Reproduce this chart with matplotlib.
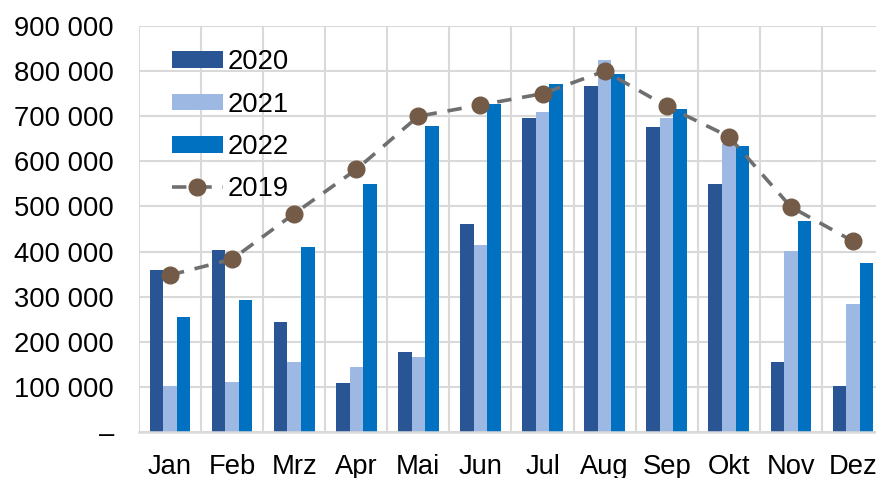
import matplotlib
matplotlib.use("Agg")
import matplotlib.pyplot as plt
import numpy as np

plt.rcParams['font.family'] = ['Liberation Sans', 'DejaVu Sans']

months = ["Jan", "Feb", "Mrz", "Apr", "Mai", "Jun", "Jul", "Aug", "Sep", "Okt", "Nov", "Dez"]
v2020 = [360000, 403000, 243000, 109000, 177000, 460000, 696000, 768000, 677000, 549000, 155000, 102000]
v2021 = [102000, 110000, 155000, 145000, 166000, 415000, 709000, 825000, 697000, 638000, 401000, 283000]
v2022 = [256000, 292000, 409000, 549000, 679000, 727000, 771000, 793000, 715000, 634000, 467000, 375000]
v2019 = [348000, 383000, 484000, 582000, 700000, 725000, 750000, 800000, 722000, 655000, 499000, 423000]
yticks = [0, 100000, 200000, 300000, 400000, 500000, 600000, 700000, 800000, 900000]

c2020 = "#2A5595"
c2021 = "#9DB9E3"
c2022 = "#0070C0"
cline = "#6F6F6F"
cmark = "#735B47"
grid = "#D9D9D9"

fig = plt.figure(figsize=(8.76, 4.78), dpi=100)
ax = fig.add_axes([139 / 876, 46 / 478, 745 / 876, 406 / 478])

x = np.arange(len(months))
w = 0.218
b20 = ax.bar(x - w, v2020, w, color=c2020, label="2020", zorder=2)
b21 = ax.bar(x, v2021, w, color=c2021, label="2021", zorder=2)
b22 = ax.bar(x + w, v2022, w, color=c2022, label="2022", zorder=2)
ln, = ax.plot(x, v2019, color=cline, lw=2.6, dashes=(4, 3), marker="o", ms=12,
              mfc=cmark, mec=cmark, label="2019", zorder=3)

ax.set_xlim(-0.5, len(months) - 0.5)
ax.set_ylim(0, 900000)
ax.set_yticks(yticks)
ax.set_yticklabels(["–" if v == 0 else f"{v:,}".replace(",", " ") for v in yticks])
ax.set_xticks(x)
ax.set_xticklabels(months)

# category separators and horizontal grid
ax.set_xticks(np.arange(len(months) + 1) - 0.5, minor=True)
ax.grid(axis="x", which="minor", color=grid, lw=1.5, zorder=0)
ax.grid(axis="y", which="major", color=grid, lw=1.5, zorder=0)
ax.grid(axis="x", which="major", visible=False)

for s in ["top", "right", "left"]:
    ax.spines[s].set_visible(False)
ax.spines["bottom"].set_color(grid)
ax.spines["bottom"].set_linewidth(1.8)

ax.tick_params(axis="both", which="both", length=0, labelsize=19.7)
ax.tick_params(axis="y", pad=18)
ax.tick_params(axis="x", pad=16)

ax.legend([b20, b21, b22, ln], ["2020", "2021", "2022", "2019"],
          loc="upper left", bbox_to_anchor=(33 / 745, 0.943), frameon=False,
          fontsize=19.7, handlelength=1.85, handleheight=0.55, handletextpad=0.2,
          labelspacing=0.6, borderpad=0, borderaxespad=0)

fig.savefig("out.png", dpi=100)
